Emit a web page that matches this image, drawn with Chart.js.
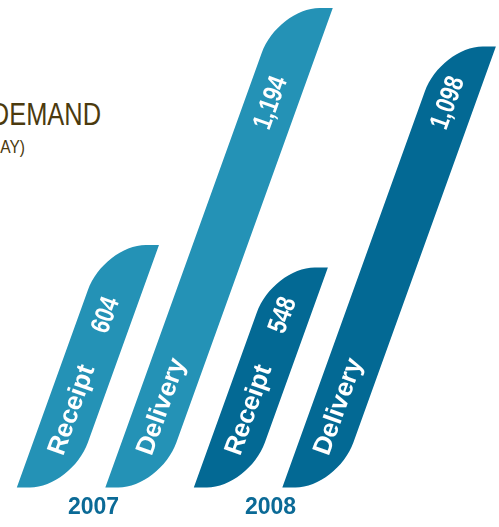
<!DOCTYPE html>
<html>
<head>
<meta charset="utf-8">
<script src="https://cdn.jsdelivr.net/npm/chart.js@4"></script>
<style>
  html, body { margin: 0; padding: 0; background: #fff; overflow: hidden; }
  #wrap { position: absolute; left: 0; top: 0; width: 499px; height: 527px; }
  .title { position: absolute; text-align: right; white-space: nowrap; line-height: 1;
           font-family: "Liberation Sans", Arial, sans-serif; color: #4b3a0e;
           transform: scaleX(0.82); transform-origin: right center; }
</style>
</head>
<body>
<div class="title" style="left:-300px;width:401px;top:99px;font-size:31px">DEMAND</div>
<div class="title" style="left:-300px;width:325px;top:137px;font-size:19px">AY)</div>
<div id="wrap"><canvas id="chart"></canvas></div>
<script>
const years = ["2007", "2008"];
const seriesNames = ["Receipt", "Delivery"];
const receipt = [604, 548];
const delivery = [1194, 1098];
const yearColors = ["#2492b6", "#036994"];

const SLANT = 0.36; // horizontal shift per pixel of height

// draws each bar as a slanted shape with two rounded corners, using the bar element geometry
const slantBars = {
  id: "slantBars",
  beforeDatasetDraw(chart, args) {
    const ctx = chart.ctx;
    args.meta.data.forEach(bar => {
      const p = bar.getProps(["x", "y", "base", "width"], true);
      const L = p.x - p.width / 2, R = p.x + p.width / 2, T = p.y, B = p.base;
      const sh = SLANT * (B - T);
      const cx = p.width * 0.76, cy = p.width * 0.82, k = 0.55;
      const TL = [L + sh, T], BR = [R, B];
      const P1 = [TL[0] + cx, T], P2 = [L + SLANT * (B - T - cy), T + cy];
      const Q1 = [R - cx, B], Q2 = [R + SLANT * cy, B - cy];
      ctx.save();
      ctx.fillStyle = bar.options.backgroundColor;
      ctx.beginPath();
      ctx.moveTo(L, B);
      ctx.lineTo(Q1[0], Q1[1]);
      ctx.bezierCurveTo(Q1[0] + k * (BR[0] - Q1[0]), B, Q2[0] + k * (BR[0] - Q2[0]), Q2[1] + k * (B - Q2[1]), Q2[0], Q2[1]);
      ctx.lineTo(R + sh, T);
      ctx.lineTo(P1[0], P1[1]);
      ctx.bezierCurveTo(P1[0] + k * (TL[0] - P1[0]), T, P2[0] + k * (TL[0] - P2[0]), P2[1] + k * (T - P2[1]), P2[0], P2[1]);
      ctx.closePath();
      ctx.fill();
      ctx.restore();
    });
    return false;
  },
  afterDatasetsDraw(chart) {
    const ctx = chart.ctx;
    const angle = -(Math.PI / 2 - Math.atan(SLANT));
    chart.data.datasets.forEach((ds, di) => {
      const els = chart.getDatasetMeta(di).data;
      const lowTop = Math.max(...els.map(e => e.y)); // top of the shorter bar
      els.forEach((bar, i) => {
        const B = bar.base;
        ctx.save();
        ctx.fillStyle = "#ffffff";
        ctx.textBaseline = "middle";
        // series name near the foot of the bar
        let y = B - 33;
        ctx.translate(bar.x + SLANT * (B - y), y);
        ctx.rotate(angle);
        ctx.font = "bold 26px 'Liberation Sans'";
        ctx.textAlign = "left";
        ctx.fillText(ds.label, 0, 0);
        ctx.restore();
        // value higher up the bar, condensed
        ctx.save();
        ctx.fillStyle = "#ffffff";
        ctx.textBaseline = "middle";
        y = lowTop + 31;
        ctx.translate(bar.x + SLANT * (B - y), y);
        ctx.rotate(angle);
        ctx.scale(0.8, 1);
        ctx.font = "bold 27px 'Liberation Sans'";
        ctx.textAlign = "right";
        ctx.fillText(ds.data[i].toLocaleString("en-US"), 0, 0);
        ctx.restore();
      });
    });
  }
};

new Chart(document.getElementById("chart"), {
  type: "bar",
  data: {
    labels: years,
    datasets: [
      { label: seriesNames[0], data: receipt, backgroundColor: yearColors },
      { label: seriesNames[1], data: delivery, backgroundColor: yearColors }
    ]
  },
  options: {
    responsive: true,
    maintainAspectRatio: false,
    animation: false,
    layout: { padding: { left: 0, right: 145, top: 0, bottom: 0 } },
    datasets: { bar: { categoryPercentage: 1.0, barPercentage: 0.62 } },
    plugins: { legend: { display: false }, tooltip: { enabled: false } },
    scales: {
      x: {
        grid: { display: false, drawTicks: false },
        border: { display: false },
        ticks: { color: "#0b6a96", padding: 6, labelOffset: 5,
                 font: { family: "'Liberation Sans', Arial", size: 23, weight: "bold" } }
      },
      y: { display: false, min: 0, max: 1214 }
    }
  },
  plugins: [slantBars]
});
</script>
</body>
</html>
